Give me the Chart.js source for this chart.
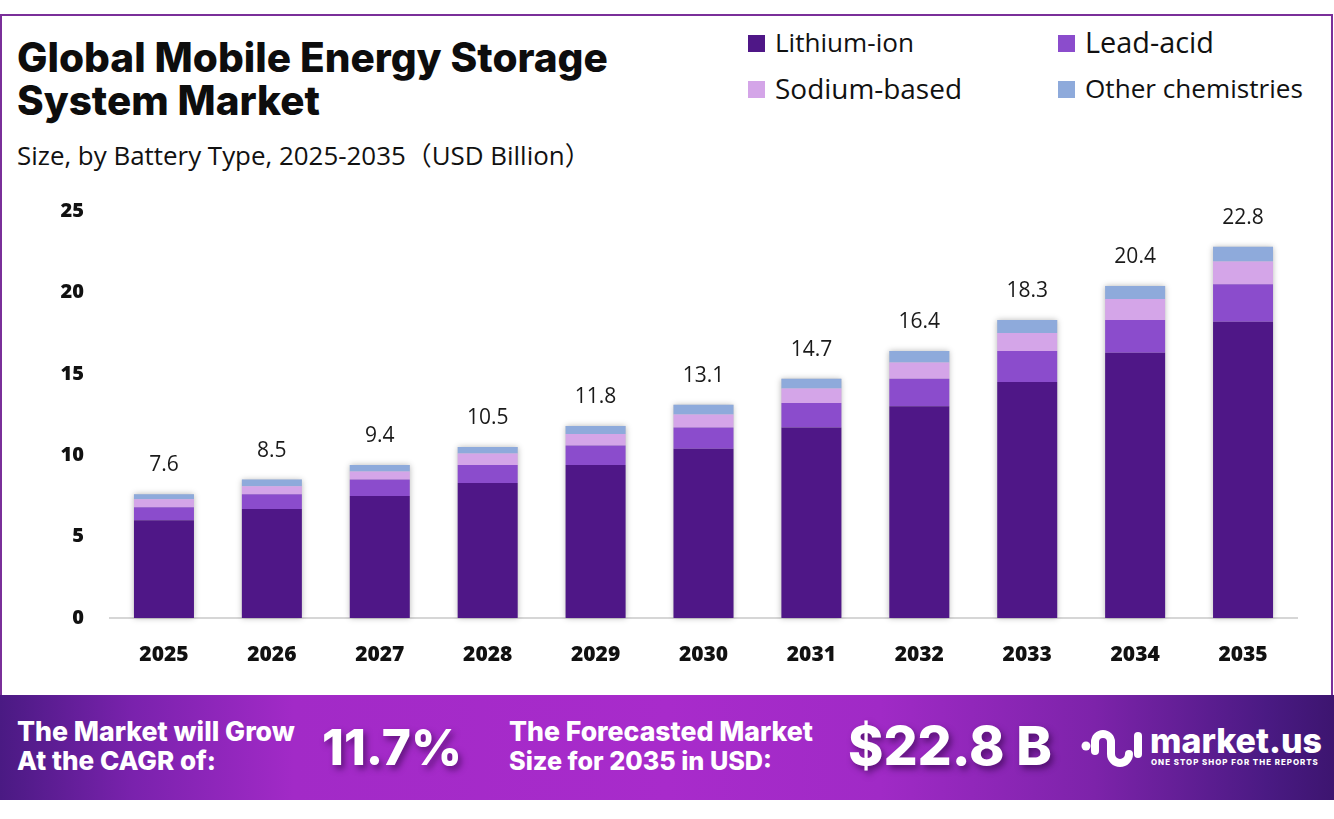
<!DOCTYPE html>
<html>
<head>
<meta charset="utf-8">
<script src="https://cdn.jsdelivr.net/npm/chart.js@4.4.1/dist/chart.umd.min.js"></script>
<style>
  html, body { margin:0; padding:0; }
  body { width:1334px; height:819px; position:relative; overflow:hidden; background:#fff; font-family:"Open Sans", sans-serif; }
  .abs { position:absolute; white-space:nowrap; }
  #frame { position:absolute; left:0; top:14px; width:1333px; height:690px; border:2px solid #7a2f99; border-bottom:none; box-sizing:border-box; }
  .title { font-family:"Inter", sans-serif; font-weight:800; color:#0d0d0d; }
  .sub { font-family:"Open Sans", "Noto Sans CJK SC", sans-serif; font-weight:400; color:#111; }
  .leg { font-family:"Open Sans", sans-serif; font-weight:400; color:#111; font-size:24px; }
  .sw { position:absolute; width:17px; height:17px; }
  #banner { position:absolute; left:0; top:695px; width:1334px; height:105px;
    background:linear-gradient(90deg,#4a1a83 0%,#7a22ad 10%,#a22ac7 22%,#a82bcb 50%,#a02ac6 66%,#7d23aa 82%,#4a1a83 95%,#3d1570 100%); }
  .bt { font-family:"Inter", sans-serif; font-weight:800; color:#fff; }
  .big { font-family:"Inter", sans-serif; font-weight:800; color:#fff; text-shadow:3px 4px 6px rgba(40,0,60,0.55); }
  #chartbox { position:absolute; left:0; top:180px; width:1334px; height:500px; }
</style>
</head>
<body>
<div id="frame"></div>

<div class="abs title fit" data-w="591" style="left:17px; top:36px; font-size:36px; line-height:44px;">Global Mobile Energy Storage</div>
<div class="abs title fit" data-w="303" style="left:17px; top:79px; font-size:36px; line-height:44px;">System Market</div>
<div class="abs sub fit" data-w="574" style="left:17px; top:139px; font-size:22px; line-height:32px;">Size, by Battery Type, 2025-2035（USD Billion）</div>

<div id="legend"></div>

<div id="chartbox"><canvas id="c"></canvas></div>

<div id="banner"></div>
<div class="abs bt fit" data-w="278" style="left:17px; top:715px; font-size:24px; line-height:32px;">The Market will Grow</div>
<div class="abs bt fit" data-w="199" style="left:17px; top:745px; font-size:24px; line-height:32px;">At the CAGR of:</div>
<div class="abs big fit" data-w="140" style="left:322px; top:716px; font-size:56px; line-height:62px;">11.7%</div>
<div class="abs bt fit" data-w="304" style="left:509px; top:715px; font-size:24px; line-height:32px;">The Forecasted Market</div>
<div class="abs bt fit" data-w="263" style="left:509px; top:745px; font-size:24px; line-height:32px;">Size for 2035 in USD:</div>
<div class="abs big fit" data-w="204" style="left:848px; top:715px; font-size:54px; line-height:62px;">$22.8 B</div>

<svg class="abs" style="left:1080px; top:724px;" width="64" height="50" viewBox="0 0 64 50">
  <circle cx="6" cy="22" r="4.5" fill="#fff"/>
  <path d="M15 27 V18 a8 8 0 0 1 16 0 V30 a9 9 0 0 0 18 0" fill="none" stroke="#fff" stroke-width="8" stroke-linecap="round"/>
  <path d="M58 12 V30" fill="none" stroke="#fff" stroke-width="8" stroke-linecap="round"/>
</svg>
<div class="abs bt fit" data-w="172" style="left:1150px; top:722px; font-size:34px; line-height:38px;">market.us</div>
<div class="abs bt fit" data-w="172" style="left:1151px; top:757px; font-size:7px; line-height:10px; letter-spacing:1px;">ONE STOP SHOP FOR THE REPORTS</div>

<script>
const categories = ['2025','2026','2027','2028','2029','2030','2031','2032','2033','2034','2035'];
const lithiumIon  = [6.0, 6.7, 7.5, 8.3, 9.4, 10.4, 11.7, 13.0, 14.5, 16.3, 18.2];
const leadAcid    = [0.8, 0.9, 1.0, 1.1, 1.2, 1.3, 1.5, 1.7, 1.9, 2.0, 2.3];
const sodiumBased = [0.5, 0.5, 0.5, 0.7, 0.7, 0.8, 0.9, 1.0, 1.1, 1.3, 1.4];
const otherChem   = [0.3, 0.4, 0.4, 0.4, 0.5, 0.6, 0.6, 0.7, 0.8, 0.8, 0.9];
const totals      = [7.6, 8.5, 9.4, 10.5, 11.8, 13.1, 14.7, 16.4, 18.3, 20.4, 22.8];
const yTicks      = [0, 5, 10, 15, 20, 25];
const seriesNames = ['Lithium-ion', 'Lead-acid', 'Sodium-based', 'Other chemistries'];
const seriesColors = ['#4f1787', '#8b4ccc', '#d4a5e8', '#8eaadb'];

// legend
const legPos = [[748, 43, 139], [1058, 43, 129], [748, 89, 187], [1058, 89, 218]];
const legend = document.getElementById('legend');
seriesNames.forEach((n, i) => {
  const [x, y, w] = legPos[i];
  const sw = document.createElement('div');
  sw.className = 'sw';
  sw.style.left = x + 'px'; sw.style.top = (y - 8) + 'px';
  sw.style.background = seriesColors[i];
  legend.appendChild(sw);
  const t = document.createElement('div');
  t.className = 'abs leg fit';
  t.dataset.w = w;
  t.style.left = (x + 27) + 'px'; t.style.top = (y - 17) + 'px'; t.style.lineHeight = '32px';
  t.textContent = n;
  legend.appendChild(t);
});

// fit text widths
document.querySelectorAll('.fit').forEach(el => {
  const cs = getComputedStyle(el);
  const fs = parseFloat(cs.fontSize);
  const target = parseFloat(el.dataset.w);
  const w = el.getBoundingClientRect().width;
  if (w > 0) el.style.fontSize = (fs * target / w) + 'px';
});

const shadowPlugin = {
  id: 'barShadow',
  beforeDatasetsDraw(chart) {
    const ctx = chart.ctx;
    const m0 = chart.getDatasetMeta(0), m3 = chart.getDatasetMeta(3);
    ctx.save();
    ctx.shadowColor = 'rgba(0,0,0,0.28)';
    ctx.shadowBlur = 6;
    ctx.fillStyle = '#cccccc';
    m0.data.forEach((el, i) => {
      const top = m3.data[i].y;
      const w = el.width;
      ctx.fillRect(el.x - w / 2, top, w, el.base - top);
    });
    ctx.restore();
  }
};

const totalLabels = {
  id: 'totalLabels',
  afterDatasetsDraw(chart) {
    const ctx = chart.ctx;
    const m3 = chart.getDatasetMeta(3);
    ctx.save();
    ctx.font = '400 21px "Open Sans", sans-serif';
    ctx.fillStyle = '#1a1a1a';
    ctx.textAlign = 'center';
    ctx.textBaseline = 'middle';
    m3.data.forEach((el, i) => {
      ctx.fillText(totals[i].toFixed(1), el.x, el.y - 29);
    });
    ctx.restore();
  }
};

const series = [lithiumIon, leadAcid, sodiumBased, otherChem];
new Chart(document.getElementById('c'), {
  type: 'bar',
  data: {
    labels: categories,
    datasets: series.map((d, i) => ({
      label: seriesNames[i],
      data: d,
      backgroundColor: seriesColors[i],
      borderWidth: 0,
      categoryPercentage: 1,
      barPercentage: 0.556
    }))
  },
  options: {
    responsive: true,
    maintainAspectRatio: false,
    animation: false,
    layout: { padding: { top: 31, right: 37, left: 0, bottom: 0 } },
    plugins: { legend: { display: false }, tooltip: { enabled: false } },
    scales: {
      x: {
        stacked: true,
        grid: { display: false, drawTicks: false },
        border: { display: true, color: '#d6d6d6', width: 2 },
        ticks: { color: '#111', font: { family: 'Open Sans', weight: '800', size: 21 }, padding: 24 },
        afterFit(s) { s.height = 62; s.paddingLeft = 0; s.paddingRight = 0; }
      },
      y: {
        stacked: true,
        min: 0, max: 25,
        grid: { display: false, drawTicks: false },
        border: { display: false },
        afterBuildTicks(s) { s.ticks = yTicks.map(v => ({ value: v })); },
        ticks: { color: '#111', font: { family: 'Open Sans', weight: '800', size: 20 }, padding: 26 },
        afterFit(s) { s.width = 110; s.paddingTop = 0; s.paddingBottom = 0; }
      }
    }
  },
  plugins: [shadowPlugin, totalLabels]
});
</script>
</body>
</html>
